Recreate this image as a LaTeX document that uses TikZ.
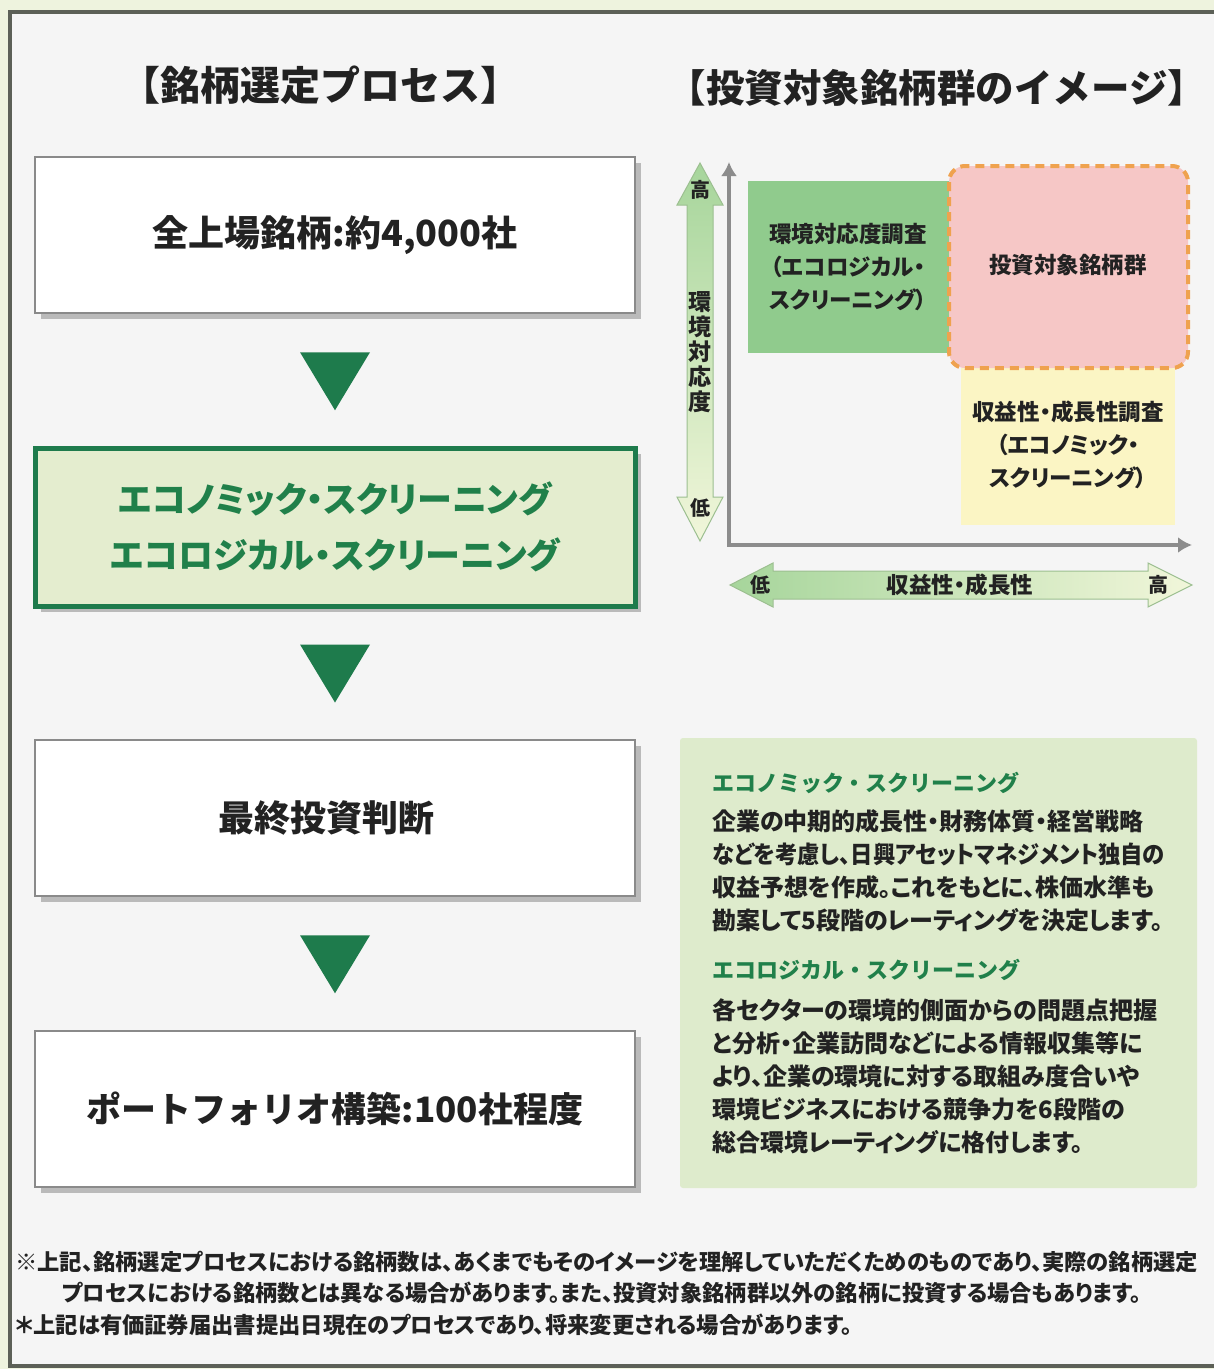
\documentclass[tikz,border=0pt]{standalone}
\usepackage{fontspec}
\setmainfont{Noto Sans CJK JP}
\newfontfamily\jpp{Noto Sans CJK JP}[RawFeature=+palt]
\usetikzlibrary{shadows,calc,arrows.meta}
\definecolor{outerbg}{HTML}{EEF3DE}
\definecolor{framegray}{HTML}{5C6057}
\definecolor{innerbg}{HTML}{F5F5F5}
\definecolor{boxgray}{HTML}{8A8A8A}
\definecolor{dgreen}{HTML}{1E7B4C}
\definecolor{tgreen}{HTML}{20804A}
\definecolor{box2fill}{HTML}{E4EDCF}
\definecolor{descfill}{HTML}{DEEBCC}
\definecolor{chgreen}{HTML}{90CB8D}
\definecolor{chpink}{HTML}{F6C7C6}
\definecolor{chorange}{HTML}{EFA24E}
\definecolor{chyellow}{HTML}{FBF5C4}
\definecolor{axisgray}{HTML}{8C8C8C}
\definecolor{arrgreen}{HTML}{A6D59B}
\definecolor{arrpale}{HTML}{F1F6DA}
\definecolor{arrline}{HTML}{9CBF90}
\definecolor{ink}{HTML}{222222}
\newcommand\fsz[2]{\fontsize{#1}{#2}\selectfont}
\begin{document}
\begin{tikzpicture}[x=1pt,y=-1pt,
  title/.style={font=\bfseries\fsz{38.5}{42}, text=ink, inner sep=0pt},
  procbox/.style={draw=boxgray, line width=2.5pt, fill=white, minimum width=600pt, minimum height=156pt,
     font=\bfseries\fsz{36}{40}, text=ink,
     drop shadow={shadow xshift=6pt, shadow yshift=-6pt, fill=black!50, opacity=.5}},
  greenbox/.style={draw=dgreen, line width=5pt, fill=box2fill, minimum width=600pt, minimum height=158pt,
     font=\jpp\bfseries\fsz{35}{56}, text=tgreen, align=center,
     drop shadow={shadow xshift=6pt, shadow yshift=-6pt, fill=black!50, opacity=.5}},
  tri/.style={fill=dgreen},
  chtext/.style={font=\jpp\bfseries\fsz{22.5}{33}, text=ink, align=center, inner sep=0pt},
  axlabel/.style={font=\bfseries\fsz{20}{25}, text=ink, align=center, inner sep=0pt},
  dhead/.style={font=\bfseries\fsz{22}{26}, text=tgreen, anchor=west, inner sep=0pt},
  dbody/.style={font=\jpp\bfseries\fsz{24}{33}, text=ink, anchor=north west, align=left, inner sep=0pt},
  note/.style={font=\jpp\bfseries\fsz{22.3}{24}, text=ink, anchor=west, inner sep=0pt},
  axisline/.style={draw=axisgray, line width=4pt, -{Latex[length=14pt,width=16pt]}}
]
\useasboundingbox (0,0) rectangle (1214,1369);
\fill[outerbg] (0,0) rectangle (1214,1369);
\filldraw[fill=innerbg, draw=framegray, line width=4.5pt] (10,12) rectangle (1230,1366);

% titles
\node[title, font=\bfseries\fsz{40}{44}] (t1) at (320,85) {【銘柄選定プロセス】};
\node[title] (t2) at (937,88) {【投資対象銘柄群のイメージ】};

% process boxes
\node[procbox] (b1) at (335,235) {全上場銘柄:約4,000社};
\node[greenbox] (b2) at (335,527) {エコノミック・スクリーニング\\エコロジカル・スクリーニング};
\node[procbox] (b3) at (335,818) {\hspace*{-18pt}最終投資判断};
\node[procbox, font=\bfseries\fsz{35}{40}] (b4) at (335,1109) {ポートフォリオ構築:100社程度};

% down triangles between boxes
\fill[tri] ($(b1.south)+(-35,38)$) -- ++(70,0) -- ++(-35,58) -- cycle;
\fill[tri] ($(b2.south)+(-35,36)$) -- ++(70,0) -- ++(-35,58) -- cycle;
\fill[tri] ($(b3.south)+(-35,38)$) -- ++(70,0) -- ++(-35,58) -- cycle;

% chart: boxes
\fill[chgreen] (748,181) rectangle (949,353);
\fill[chyellow] (961,368) rectangle (1175,525);
\filldraw[fill=chpink, draw=chorange, line width=4pt, dash pattern=on 9pt off 6pt, rounded corners=16pt]
  (949,166) rectangle (1188,368);
\node[chtext] (cg) at (848,267) {環境対応度調査\\（エコロジカル・\\スクリーニング）};
\node[chtext] (cp) at (1068,265) {投資対象銘柄群};
\node[chtext] (cy) at (1068,445) {収益性・成長性調査\\（エコノミック・\\スクリーニング）};

% chart: axes
\coordinate (org) at (729,545);
\coordinate (ytop) at (729,162);
\coordinate (xend) at (1192,545);
\draw[axisline] (org) -- (ytop);
\draw[axisline] ($(org)+(-2,0)$) -- (xend);

% vertical double arrow
\draw[arrline, line width=1pt, top color=arrgreen, bottom color=arrpale]
  (700,163) -- (723,205) -- (713,205) -- (713,497) -- (723,497) -- (700,541) -- (677,497) -- (687,497)
  -- (687,205) -- (677,205) -- cycle;
\node[axlabel] (vhi) at (700,190) {高};
\node[axlabel, font=\bfseries\fsz{23}{25}] (vlab) at (700,352) {環\\境\\対\\応\\度};
\node[axlabel] (vlo) at (700,508) {低};

% horizontal double arrow
\draw[arrline, line width=1pt, left color=arrgreen, right color=arrpale]
  (730,585) -- (773,563) -- (773,571) -- (1148,571) -- (1148,563) -- (1192,585) -- (1148,607)
  -- (1148,599) -- (773,599) -- (773,607) -- cycle;
\node[axlabel] (hlo) at (760,585) {低};
\node[axlabel, font=\jpp\bfseries\fsz{22.5}{25}] (hlab) at (960,585) {収益性・成長性};
\node[axlabel] (hhi) at (1158,585) {高};

% description box
\fill[descfill, rounded corners=3pt] (680,738) rectangle (1197,1188);
\node[dhead] (h1) at (712,783) {エコノミック・スクリーニング};
\node[dbody] (p1) at (712,809) {企業の中期的成長性・財務体質・経営戦略\\\scalebox{0.93}[1]{などを考慮し、日興アセットマネジメント独自の}\\収益予想を作成。これをもとに、株価水準も\\勘案して5段階のレーティングを決定します。};
\node[dhead] (h2) at (712,970) {エコロジカル・スクリーニング};
\node[dbody] (p2) at (712,998) {各セクターの環境的側面からの問題点把握\\と分析・企業訪問などによる情報収集等に\\より、企業の環境に対する取組み度合いや\\環境ビジネスにおける競争力を6段階の\\総合環境レーティングに格付します。};

% notes
\node[note] (n1) at (15,1262) {※上記、銘柄選定プロセスにおける銘柄数は、あくまでもそのイメージを理解していただくためのものであり、実際の銘柄選定};
\node[note] (n2) at (62,1293) {プロセスにおける銘柄数とは異なる場合があります。また、投資対象銘柄群以外の銘柄に投資する場合もあります。};
\node[note] (n3) at (15,1325) {＊上記は有価証券届出書提出日現在のプロセスであり、将来変更される場合があります。};
\end{tikzpicture}
\end{document}
